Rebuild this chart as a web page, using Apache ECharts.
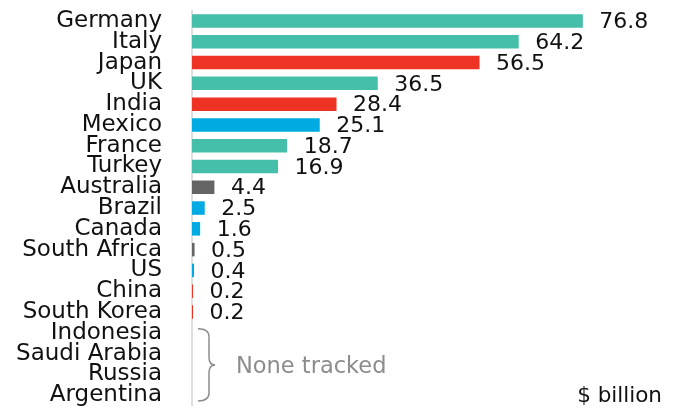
<!DOCTYPE html>
<html>
<head>
<meta charset="utf-8">
<script src="https://cdn.jsdelivr.net/npm/echarts@6/dist/echarts.min.js"></script>
<style>html,body{margin:0;padding:0;background:#fff}#main{width:677px;height:414px}</style>
</head>
<body>
<div id="main"></div>
<script>
const categories = ['Germany','Italy','Japan','UK','India','Mexico','France','Turkey','Australia','Brazil','Canada','South Africa','US','China','South Korea','Indonesia','Saudi Arabia','Russia','Argentina'];
const values = [76.8, 64.2, 56.5, 36.5, 28.4, 25.1, 18.7, 16.9, 4.4, 2.5, 1.6, 0.5, 0.4, 0.2, 0.2, null, null, null, null];
const regions = ['Europe','Europe','Asia','Europe','Asia','Americas','Europe','Europe','Other','Americas','Americas','Other','Americas','Asia','Asia', null, null, null, null];
const untracked = ['Indonesia','Argentina'];
const noteText = 'None tracked';
const unitText = '$ billion';

const regionColors = {Europe:'#45BEAA', Asia:'#EE3224', Americas:'#00AAE2', Other:'#646464'};
const FONT = 'DejaVu Sans';

const data = values.map((v, i) => v == null ? null : {value: v, itemStyle: {color: regionColors[regions[i]]}});

const chart = echarts.init(document.getElementById('main'), null, {renderer: 'canvas'});
chart.setOption({
  animation: false,
  grid: {left: 192, right: 27, top: 10.6, bottom: 8.5, containLabel: false},
  xAxis: {type: 'value', min: 0, max: 90, show: false},
  yAxis: {
    type: 'category', data: categories, inverse: true,
    axisLine: {show: true, lineStyle: {color: '#d4d4d4', width: 1.5}},
    axisTick: {show: false},
    axisLabel: {interval: 0, margin: 30, fontSize: 23, color: '#111', fontFamily: FONT}
  },
  title: {text: unitText, right: 10, bottom: 2, textStyle: {fontSize: 21.5, fontWeight: 'normal', fontFamily: FONT, color: '#111'}},
  series: [{
    type: 'bar', data: data, barWidth: 13.5,
    label: {show: true, position: 'right', distance: 16.5, offset: [0, 1.5], fontSize: 22, fontFamily: FONT, color: '#111',
      formatter: p => p.value == null ? '' : Number(p.value).toFixed(1)}
  }]
});

const x0 = chart.convertToPixel({xAxisIndex: 0}, 0);
const yTop = chart.convertToPixel({yAxisIndex: 0}, untracked[0]) - 4;
const yBot = chart.convertToPixel({yAxisIndex: 0}, untracked[1]) + 6;
const mid = (yTop + yBot) / 2;
const xl = x0 + 6, xv = x0 + 17, xt = x0 + 23;
const braceStyle = {stroke: '#8c8c8c', lineWidth: 1.5, fill: 'none'};
chart.setOption({
  graphic: [
    {type: 'bezierCurve', shape: {x1: xl, y1: yTop, cpx1: xl + 7, cpy1: yTop, cpx2: xv, cpy2: yTop + 2, x2: xv, y2: yTop + 8}, style: braceStyle},
    {type: 'line', shape: {x1: xv, y1: yTop + 8, x2: xv, y2: mid - 8}, style: braceStyle},
    {type: 'bezierCurve', shape: {x1: xv, y1: mid - 8, cpx1: xv, cpy1: mid - 3, cpx2: xv + 2, cpy2: mid, x2: xt, y2: mid}, style: braceStyle},
    {type: 'bezierCurve', shape: {x1: xt, y1: mid, cpx1: xv + 2, cpy1: mid, cpx2: xv, cpy2: mid + 3, x2: xv, y2: mid + 8}, style: braceStyle},
    {type: 'line', shape: {x1: xv, y1: mid + 8, x2: xv, y2: yBot - 8}, style: braceStyle},
    {type: 'bezierCurve', shape: {x1: xv, y1: yBot - 8, cpx1: xv, cpy1: yBot - 2, cpx2: xl + 7, cpy2: yBot, x2: xl, y2: yBot}, style: braceStyle},
    {type: 'text', x: x0 + 44, y: mid + 2, style: {text: noteText, fontSize: 22.5, fontFamily: FONT, fill: '#8c8c8c', verticalAlign: 'middle', align: 'left'}}
  ]
});
</script>
</body>
</html>
